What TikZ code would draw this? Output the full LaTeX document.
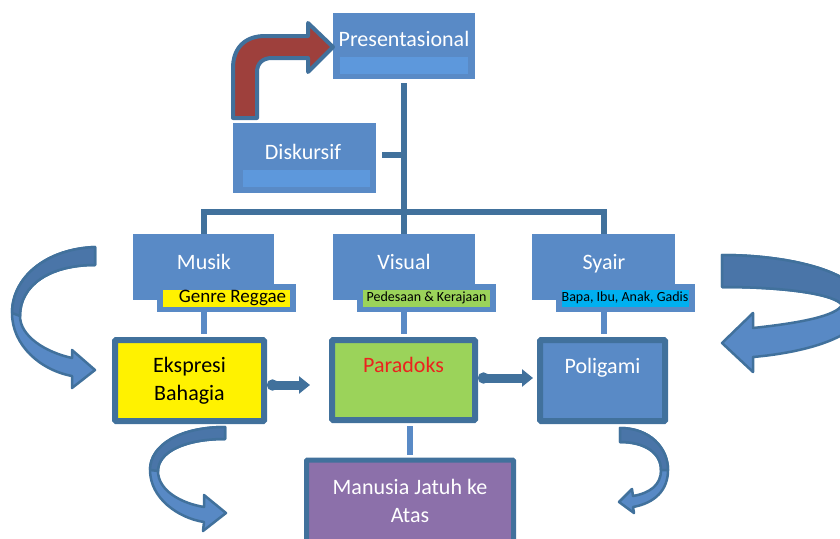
\documentclass[tikz,border=0pt]{standalone}
\usepackage{fontspec}
\setmainfont{Carlito}
\usepackage{tikz}
\usetikzlibrary{arrows.meta}
\usetikzlibrary{calc}

\definecolor{boxblue}{RGB}{89,138,198}
\definecolor{barblue}{RGB}{93,152,220}
\definecolor{edgeblue}{RGB}{65,113,156}
\definecolor{arrowlight}{RGB}{88,137,197}
\definecolor{arrowdark}{RGB}{74,117,168}
\definecolor{brick}{RGB}{158,64,60}
\definecolor{leaf}{RGB}{155,211,90}
\definecolor{sky}{RGB}{0,176,240}
\definecolor{plum}{RGB}{140,112,170}
\definecolor{alert}{RGB}{235,35,30}

\tikzset{
  bigtext/.style={font=\fontsize{22}{28}\selectfont},
  topbox/.style={fill=boxblue, inner sep=0pt},
  bar/.style={fill=barblue, inner sep=0pt, minimum height=17},
  tag/.style={fill=boxblue, inner sep=0pt, minimum width=139, minimum height=28},
  tagband/.style={inner sep=0pt, minimum width=127, minimum height=17, text=black},
  lowbox/.style={draw=edgeblue, line width=6pt, bigtext, align=center, inner sep=0pt, rounded corners=1pt},
  trunk/.style={draw=edgeblue, line width=6pt},
  link/.style={draw=boxblue, line width=6pt, shorten >=3pt},
  hop/.style={draw=edgeblue, line width=9pt, {Circle[length=11pt]}-{Triangle[length=11pt,width=17pt]}},
  curvy/.style={fill=arrowlight, draw=edgeblue, line width=2.5pt, line join=round},
  fold/.style={curvy, fill=arrowdark},
  bent/.style={fill=brick, draw=edgeblue, line width=4pt, line join=round}
}

\begin{document}
\begin{tikzpicture}[x=1pt, y=-1pt]

        \clip (0,0) rectangle (840,538);

        % top of the tree
        \node[topbox, minimum width=142, minimum height=66] (pres) at (404,46) {};
        \node[bar, minimum width=128] (presbar) at (404,65.5) {};
        \node[bigtext, text=white] (prestext) at (404,39) {Presentasional};

        \node[topbox, minimum width=143, minimum height=70] (disk) at (304.5,158) {};
        \node[bar, minimum width=127] (diskbar) at (306.5,178) {};
        \node[bigtext, text=white] (disktext) at (303,152) {Diskursif};

        % three branches
        \node[topbox, minimum width=141, minimum height=66] (musik) at (203.5,267) {};
        \node[bigtext, text=white] (musiktext) at (204,262) {Musik};
        \node[topbox, minimum width=142, minimum height=66] (visual) at (404,267) {};
        \node[bigtext, text=white] (visualtext) at (404,262) {Visual};
        \node[topbox, minimum width=143, minimum height=66] (syair) at (603.5,267) {};
        \node[bigtext, text=white] (syairtext) at (604,264) {Syair};

        \node[tag] (genre) at (226.5,298) {};
        \node[tagband, fill=yellow] (genreband) at (genre) {};
        \node[inner sep=0pt, font=\fontsize{19}{20}\selectfont] (genretext) at ($(genre)+(6,0)$) {Genre Reggae};
        \node[tag] (desa) at (426.5,298) {};
        \node[tagband, fill=leaf, font=\fontsize{14}{16}\selectfont] (desaband) at (desa) {Pedesaan \& Kerajaan};
        \node[tag] (tokoh) at (625,298) {};
        \node[tagband, fill=sky, font=\fontsize{14}{16}\selectfont] (tokohband) at (tokoh) {Bapa, Ibu, Anak, Gadis};

        % lower boxes
        \node[lowbox, fill=yellow, minimum width=149, minimum height=81] (ekspresi) at (189.5,380.5) {Ekspresi\\Bahagia};
        \node[lowbox, fill=leaf, text=alert, text depth=30pt, minimum width=143, minimum height=80] (paradoks) at (403.5,380) {Paradoks};
        \node[lowbox, fill=boxblue, text=white, text depth=30pt, minimum width=125, minimum height=81] (poligami) at (602.5,380.5) {Poligami};
        \node[lowbox, fill=plum, text=white, line width=5pt, minimum width=207, minimum height=82] (manusia) at (410,501) {Manusia Jatuh ke\\Atas};

        % connectors
        \coordinate (hub) at (404,212);
        \draw[trunk] ([yshift=-4pt]pres.south) -- (hub);
        \draw[trunk] (musik.north) -- (musik.north |- hub) -- (syair.north |- hub) -- (syair.north);
        \draw[trunk] (hub) -- (visual.north);
        \draw[trunk] ([shift={(6pt,3pt)}]disk.east) coordinate (stub) -- (stub -| hub);

        \draw[link] (genre.south -| musik.south) -- (ekspresi.north -| musik.south);
        \draw[link] (desa.south -| visual.south) -- (paradoks.north -| visual.south);
        \draw[link] (tokoh.south -| syair.south) -- (poligami.north -| syair.south);
        \draw[link, shorten <=3pt] (paradoks.south -| manusia.north) -- (manusia.north);

        \draw[hop] ([yshift=-4.5pt]ekspresi.east) coordinate (h1) -- ([xshift=-19pt]h1 -| paradoks.west);
        \draw[hop] ([yshift=2pt]paradoks.east) coordinate (h2) -- ([xshift=-4pt]h2 -| poligami.west);

        % bent arrow into Presentasional
        \draw[bent] (233,118) -- (233,68) .. controls (233,48) and (245,36) .. (265,36) -- (308,36)
        -- (308,23) -- (333,47) -- (308,72) -- (308,58) -- (272,58) .. controls (263,58) and (257,63)
        .. (257,72) -- (257,118) -- cycle;

        % curved arrows
        \draw[curvy] (95,247) .. controls (45,249) and (12,278) .. (12,313) .. controls (12,345) and
        (40,370) .. (72,376) -- (72,388) -- (95,370) -- (72,350) -- (72,358) .. controls (45,352) and
        (20,336) .. (20,316) .. controls (20,285) and (50,265) .. (95,265) -- cycle;
        \draw[fold] (95,247) .. controls (45,249) and (12,278) .. (12,313) -- (20,316) .. controls
        (20,285) and (50,265) .. (95,265) -- cycle;

        \draw[curvy] (722,255) .. controls (790,255) and (862,272) .. (864,305) .. controls (866,335)
        and (810,352) .. (753,357) -- (753,372) -- (722,343) -- (753,313) -- (753,328) .. controls
        (800,323) and (836,316) .. (842,305) .. controls (836,295) and (790,287) .. (722,287) -- cycle;
        \draw[fold] (722,255) .. controls (790,255) and (862,272) .. (864,305) -- (842,305) .. controls
        (836,295) and (790,287) .. (722,287) -- cycle;

        \draw[curvy] (225,427) .. controls (180,427) and (150,445) .. (150,470) .. controls (150,498)
        and (178,518) .. (204,522) -- (203,531) -- (226,513) -- (204,495) -- (204,507) .. controls
        (180,503) and (158,490) .. (158,471) .. controls (158,452) and (185,439) .. (225,439) -- cycle;
        \draw[fold] (225,427) .. controls (180,427) and (150,445) .. (150,470) -- (158,471) .. controls
        (158,452) and (185,439) .. (225,439) -- cycle;

        \draw[curvy] (620,428) .. controls (650,428) and (668,448) .. (668,470) .. controls (668,490)
        and (655,503) .. (633,507) -- (634,513) -- (619,502) -- (632,489) -- (633,496) .. controls
        (650,493) and (661,485) .. (661,470) .. controls (661,453) and (645,442) .. (620,442) -- cycle;
        \draw[fold] (620,428) .. controls (650,428) and (668,448) .. (668,470) -- (661,470) .. controls
        (661,453) and (645,442) .. (620,442) -- cycle;

\end{tikzpicture}
\end{document}
